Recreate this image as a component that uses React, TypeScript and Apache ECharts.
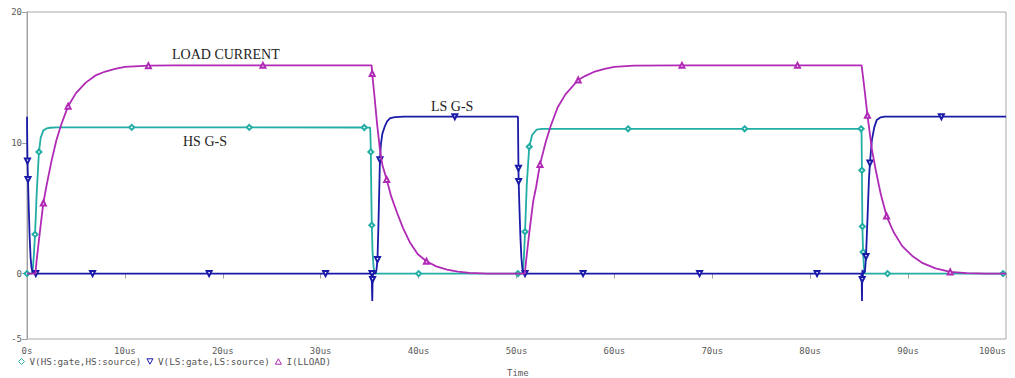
import React, { useEffect, useRef } from "react";
import * as echarts from "echarts";

// ---- data (time in us, value in V or A) ----
const seriesNames = ["V(HS:gate,HS:source)", "V(LS:gate,LS:source)", "I(LLOAD)"];
const yTickValues = [-5, 0, 10, 20];
const annotationLabels = ["LOAD CURRENT", "HS G-S", "LS G-S"];

const hsGate: [number, number][] = [
  [0, 0], [0.5, 0], [0.6, 0.4], [0.7, 1.4], [0.82, 3.0], [1.0, 6.3], [1.22, 9.3], [1.4, 10.4],
  [1.67, 10.95], [2.0, 11.1], [2.35, 11.15], [3.0, 11.18], [10.7, 11.18], [22.7, 11.18],
  [34.45, 11.17], [35.05, 11.16], [35.08, 10.6], [35.12, 9.3], [35.17, 6.0], [35.22, 3.7],
  [35.3, 1.6], [35.4, 0.5], [35.5, 0.1], [35.7, 0], [40.0, 0], [50.15, 0], [50.6, 0],
  [50.7, 0.5], [50.78, 1.6], [50.87, 3.2], [51.05, 6.8], [51.3, 9.7], [51.6, 10.6],
  [52.05, 11.0], [52.6, 11.06], [61.4, 11.07], [73.3, 11.07], [85.2, 11.07], [85.25, 10.6],
  [85.28, 7.9], [85.33, 3.6], [85.4, 1.65], [85.5, 0.4], [85.6, 0], [87.9, 0], [99.7, 0], [100, 0],
];
const hsMarkerTimes = [0, 0.82, 1.22, 10.7, 22.7, 34.45, 35.12, 35.22, 40.0, 50.15, 50.87, 51.3, 61.4, 73.3, 85.2, 85.28, 85.33, 85.4, 87.9, 99.7];

const lsGate: [number, number][] = [
  [0, 12], [0.03, 9.8], [0.05, 8.6], [0.1, 7.2], [0.18, 5.0], [0.27, 2.8], [0.37, 1.2],
  [0.47, 0.4], [0.6, 0.05], [0.9, 0], [6.7, 0], [18.6, 0], [30.5, 0], [35.2, 0], [35.24, 0],
  [35.27, -2.1], [35.3, -0.45], [35.33, 0], [35.6, 0], [35.7, 0.3], [35.8, 1.07], [35.9, 3.8],
  [36.0, 7.0], [36.05, 8.7], [36.15, 9.9], [36.3, 10.7], [36.57, 11.3], [36.8, 11.65],
  [37.1, 11.88], [37.6, 11.97], [38.5, 12], [43.7, 12], [50.15, 12], [50.18, 9.5], [50.2, 8.05],
  [50.22, 7.05], [50.3, 5.0], [50.4, 2.8], [50.5, 1.2], [50.6, 0.4], [50.7, 0.05], [50.87, 0],
  [56.8, 0], [68.7, 0], [80.7, 0], [85.22, 0], [85.26, -0.3], [85.29, -2.1], [85.31, -0.45],
  [85.34, 0.3], [85.37, -0.4], [85.4, 0.2], [85.45, 0], [85.6, 0.2], [85.7, 1.3], [85.85, 4.2],
  [86.0, 7.2], [86.1, 8.45], [86.3, 10.2], [86.55, 11.2], [86.8, 11.75], [87.2, 11.95],
  [87.6, 12], [93.4, 12], [100, 12],
];
const lsMarkerTimes = [0.05, 0.1, 0.9, 6.7, 18.6, 30.5, 35.24, 35.3, 35.8, 36.05, 43.7, 50.2, 50.22, 50.87, 56.8, 68.7, 80.7, 85.31, 85.7, 86.1, 93.4];

const loadCurrent: [number, number][] = [
  [0, 0], [0.85, 0], [1.0, 1.1], [1.3, 3.1], [1.67, 5.4], [2.0, 6.75], [2.5, 8.6], [3.0, 10.2],
  [3.5, 11.4], [4.2, 12.8], [5.0, 13.8], [6.0, 14.6], [7.0, 15.15], [8.0, 15.45], [9.0, 15.65],
  [10.0, 15.8], [12.4, 15.9], [15, 15.92], [24.1, 15.92], [35.2, 15.92], [35.26, 15.3],
  [35.5, 13.5], [35.75, 11.5], [36.05, 9.5], [36.3, 8.3], [36.74, 7.2], [37.2, 5.9], [37.8, 4.65],
  [38.4, 3.5], [39.1, 2.4], [39.9, 1.5], [40.8, 0.94], [41.8, 0.55], [42.9, 0.3], [44.0, 0.15],
  [45.2, 0.06], [47, 0], [50.85, 0], [51.0, 1.1], [51.3, 3.1], [51.7, 5.5], [52.0, 6.6],
  [52.4, 8.35], [53.0, 10.1], [53.5, 11.3], [54.2, 12.7], [55.0, 13.7], [56.3, 14.8], [57.0, 15.1],
  [58.0, 15.45], [59.0, 15.65], [60.0, 15.8], [62.0, 15.9], [66.9, 15.92], [78.7, 15.92],
  [85.25, 15.92], [85.5, 14.4], [85.85, 12.1], [86.3, 9.5], [86.7, 7.9], [87.2, 6.1], [87.8, 4.4],
  [88.5, 3.2], [89.4, 2.1], [90.5, 1.3], [91.5, 0.8], [92.8, 0.4], [94.3, 0.13], [96, 0.03],
  [98, 0], [100, 0],
];
const loadMarkerTimes = [1.67, 4.2, 12.4, 24.1, 35.26, 36.74, 40.8, 52.4, 56.3, 66.9, 78.7, 85.85, 87.8, 94.3];

const COLORS = ["#22ADA5", "#1A1AA8", "#B02AB6"];
const MONO = "DejaVu Sans Mono";
const SERIF = "Liberation Serif";

function withMarkers(points: [number, number][], marks: number[]) {
  const set = new Set(marks);
  return points.map(([t, v]) => (set.has(t) ? { value: [t, v] } : { value: [t, v], symbol: "none" }));
}

export default function App() {
  const ref = useRef<HTMLDivElement>(null);

  useEffect(() => {
    if (!ref.current) return;
    const chart = echarts.init(ref.current, null, { renderer: "svg" });

    const lineSeries = (idx: number, pts: [number, number][], marks: number[], symbol: string, rotate = 0) => ({
      name: seriesNames[idx],
      type: "line",
      data: withMarkers(pts, marks),
      symbol,
      symbolRotate: rotate,
      symbolSize: 5,
      showSymbol: true,
      showAllSymbol: true,
      silent: true,
      lineStyle: { color: COLORS[idx], width: 1.8 },
      itemStyle: { color: COLORS[idx], borderWidth: 1 },
      emphasis: { disabled: true },
      z: 2 + idx,
    });

    chart.setOption({
      animation: false,
      backgroundColor: "#ffffff",
      grid: {
        left: 27, right: 9, top: 12, bottom: 39,
        show: true, borderColor: "#a8a8a8", borderWidth: 1,
        outerBoundsMode: "none",
      },
      xAxis: {
        type: "value", min: 0, max: 100, interval: 10,
        axisLine: { show: true, lineStyle: { color: "#a0a0a0", width: 1 } },
        axisTick: { show: true, inside: false, length: 5, lineStyle: { color: "#a0a0a0" } },
        splitLine: { show: false },
        axisLabel: {
          color: "#5a5a5a", fontFamily: MONO, fontSize: 9, margin: 7,
          alignMaxLabel: "right",
          formatter: (v: number) => (v === 0 ? "0s" : `${v}us`),
        },
      },
      yAxis: {
        type: "value", min: -5, max: 20, interval: 5,
        axisLine: { show: true, lineStyle: { color: "#a0a0a0", width: 1 } },
        axisTick: { show: true, inside: false, length: 5, lineStyle: { color: "#a0a0a0" }, customValues: yTickValues },
        splitLine: { show: false },
        axisLabel: {
          color: "#5a5a5a", fontFamily: MONO, fontSize: 9, margin: 5,
          customValues: yTickValues,
          formatter: (v: number) => `${v}`,
        },
      },
      legend: {
        left: 18, top: 357, padding: 0, itemWidth: 6, itemHeight: 6, itemGap: 5,
        selectedMode: false,
        textStyle: { fontFamily: MONO, fontSize: 9.3, color: "#555555" },
        data: [
          { name: seriesNames[0], icon: "path://M5,0 L10,5 L5,10 L0,5 Z", itemStyle: { color: "#ffffff", borderColor: COLORS[0], borderWidth: 1 } },
          { name: seriesNames[1], icon: "path://M0,0 L10,0 L5,9 Z", itemStyle: { color: "#ffffff", borderColor: COLORS[1], borderWidth: 1 } },
          { name: seriesNames[2], icon: "path://M5,0 L10,9 L0,9 Z", itemStyle: { color: "#ffffff", borderColor: COLORS[2], borderWidth: 1 } },
        ],
      },
      graphic: [
        { type: "text", left: 172, top: 47, style: { text: annotationLabels[0], font: `14px "${SERIF}"`, fill: "#222222" } },
        { type: "text", left: 183, top: 134, style: { text: annotationLabels[1], font: `14px "${SERIF}"`, fill: "#222222" } },
        { type: "text", left: 431, top: 99, style: { text: annotationLabels[2], font: `14px "${SERIF}"`, fill: "#222222" } },
        { type: "text", left: 507, top: 368, style: { text: "Time", font: `9px "${MONO}"`, fill: "#5a5a5a" } },
      ],
      series: [
        lineSeries(0, hsGate, hsMarkerTimes, "emptyDiamond"),
        lineSeries(1, lsGate, lsMarkerTimes, "emptyTriangle", 180),
        lineSeries(2, loadCurrent, loadMarkerTimes, "emptyTriangle"),
      ],
    });

    return () => chart.dispose();
  }, []);

  return (
    <div
      ref={ref}
      style={{ position: "fixed", left: 0, top: 0, width: 1015, height: 378, background: "#fff" }}
    />
  );
}
